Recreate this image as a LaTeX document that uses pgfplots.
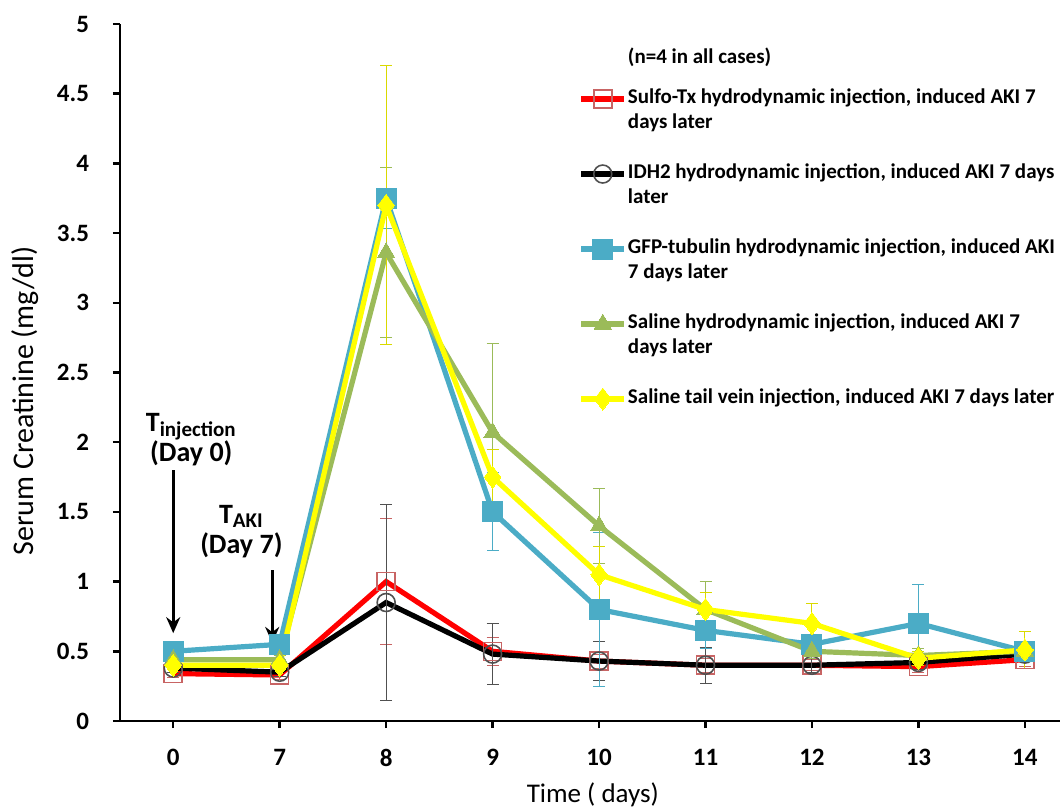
\documentclass[border=0pt]{standalone}
\usepackage{fontspec}
\setmainfont{Carlito}
\usepackage{pgfplots}
\pgfplotsset{compat=1.18}
\usetikzlibrary{arrows.meta}
\definecolor{cRed}{HTML}{FF0000}
\definecolor{cRedMk}{HTML}{C86464}
\definecolor{cBlue}{HTML}{4BACC6}
\definecolor{cGreen}{HTML}{9BBB59}
\definecolor{cYellow}{HTML}{FFFF00}
\definecolor{cGray}{HTML}{505050}
\begin{document}
\begin{tikzpicture}
\begin{axis}[
  at={(0,0)}, anchor=south west,
  scale only axis, width=470pt, height=348.5pt,
  xmin=-0.5, xmax=8.33, ymin=0, ymax=5,
  axis x line=bottom, axis y line=left,
  axis line style={-, line width=1.3pt},
  tick align=outside, major tick length=3.5pt,
  tick style={line width=1.2pt, black},
  xtick={0,...,8}, xticklabels={0,7,8,9,10,11,12,13,14},
  ytick={0,0.5,...,5},
  yticklabel style={/pgf/number format/fixed},
  /pgf/number format/assume math mode=true,
  ticklabel style={font=\bfseries\fontsize{12.5}{14}\selectfont},
  xticklabel style={yshift=-7pt},
  yticklabel style={xshift=-8.5pt},
  xlabel={Time ( days)},
  ylabel={Serum Creatinine (mg/dl)},
  xlabel style={font=\fontsize{13.5}{15}\selectfont, at={(axis description cs:0.503,0)}, anchor=center, yshift=-37pt},
  ylabel style={font=\fontsize{15}{17}\selectfont, at={(axis description cs:-0.101,0.459)}, anchor=center, rotate=0},
  legend cell align=left,
  legend image code/.code={\draw[mark repeat=2,mark phase=2,#1] plot coordinates {(0cm,0cm)(0.38cm,0cm)(0.76cm,0cm)};},
  legend style={draw=none, fill=none, at={(0.481,0.974)}, anchor=north west,
    font=\bfseries\fontsize{10.5}{12}\selectfont, row sep=0pt,
    nodes={inner ysep=0pt, inner xsep=0.5pt, text height=8.5pt, text depth=4pt}},
  every axis plot/.append style={line width=2.6pt},
  error bars/error bar style={line width=0.5pt},
  error bars/error mark options={rotate=90, mark size=3pt, line width=0.5pt},
]
\addlegendimage{empty legend}
\addlegendentry[text depth=11.5pt]{(n=4 in all cases)}

\addplot[color=cRed, mark=square, mark size=4.5pt, mark options={draw=cRedMk, line width=0.8pt, fill=none},
  error bars/.cd, y dir=both, y explicit, error bar style={color=cRedMk}]
  table[x=x, y=y, y error=e] {
x y e
0 0.34 0.03
1 0.33 0.03
2 1.00 0.45
3 0.50 0.10
4 0.43 0.05
5 0.40 0.05
6 0.40 0.04
7 0.39 0.04
8 0.44 0.05
};
\addlegendentry{Sulfo-Tx hydrodynamic injection, induced AKI 7}
\addlegendimage{empty legend}\addlegendentry{days later}
\addlegendimage{empty legend}\addlegendentry{}

\addplot[color=black, mark=o, mark size=4.5pt, mark options={draw=cGray, line width=0.8pt, fill=none},
  error bars/.cd, y dir=both, y explicit, error bar style={color=cGray}]
  table[x=x, y=y, y error=e] {
x y e
0 0.38 0.03
1 0.35 0.03
2 0.85 0.70
3 0.48 0.22
4 0.43 0.14
5 0.40 0.13
6 0.40 0.05
7 0.42 0.05
8 0.48 0.05
};
\addlegendentry{IDH2 hydrodynamic injection, induced AKI 7 days}
\addlegendimage{empty legend}\addlegendentry{later}
\addlegendimage{empty legend}\addlegendentry{}

\addplot[color=cBlue, mark=square*, mark size=5pt, mark options={fill=cBlue, draw=cBlue, line width=0pt},
  error bars/.cd, y dir=both, y explicit, error bar style={color=cBlue}]
  table[x=x, y=y, y error=e] {
x y e
0 0.50 0.03
1 0.55 0.03
2 3.75 0.22
3 1.50 0.28
4 0.80 0.55
5 0.65 0.13
6 0.55 0.07
7 0.70 0.28
8 0.50 0.05
};
\addlegendentry{GFP-tubulin hydrodynamic injection, induced AKI}
\addlegendimage{empty legend}\addlegendentry{7 days later}
\addlegendimage{empty legend}\addlegendentry{}

\addplot[color=cGreen, mark=triangle*, mark size=5pt, mark options={fill=cGreen, draw=cGreen, line width=0pt},
  error bars/.cd, y dir=both, y explicit, error bar style={color=cGreen}]
  table[x=x, y=y, y error=e] {
x y e
0 0.44 0.03
1 0.44 0.03
2 3.36 0.61
3 2.07 0.64
4 1.40 0.27
5 0.80 0.20
6 0.50 0.05
7 0.47 0.05
8 0.50 0.05
};
\addlegendentry{Saline hydrodynamic injection, induced AKI 7}
\addlegendimage{empty legend}\addlegendentry{days later}
\addlegendimage{empty legend}\addlegendentry{}

\addplot[color=cYellow, mark=diamond*, mark size=5.5pt, mark options={fill=cYellow, draw=cYellow, line width=0pt},
  error bars/.cd, y dir=both, y explicit, error bar style={color=cYellow!85!black}]
  table[x=x, y=y, y error=e] {
x y e
0 0.40 0.03
1 0.40 0.03
2 3.70 1.00
3 1.75 0.20
4 1.05 0.20
5 0.80 0.12
6 0.70 0.14
7 0.45 0.05
8 0.51 0.13
};
\addlegendentry{Saline tail vein injection, induced AKI 7 days later}

\node[align=center, font=\bfseries\fontsize{14}{15}\selectfont] at (axis cs:0.17,2.02)
  {T\textsubscript{\fontsize{10.5}{12}\selectfont injection}\\(Day 0)};
\node[align=center, font=\bfseries\fontsize{14}{15}\selectfont] at (axis cs:0.64,1.36)
  {T\textsubscript{\fontsize{10.5}{12}\selectfont AKI}\\(Day 7)};
\draw[-{Stealth[length=8pt,width=7pt]}, line width=1.4pt] (axis cs:0,1.80) -- (axis cs:0,0.63);
\draw[-{Stealth[length=8pt,width=7pt]}, line width=1.4pt] (axis cs:0.93,1.08) -- (axis cs:0.93,0.56);
\end{axis}
\pgfresetboundingbox
\path (-60pt,-43.5pt) rectangle (471.5pt,360.5pt);
\end{tikzpicture}
\end{document}
